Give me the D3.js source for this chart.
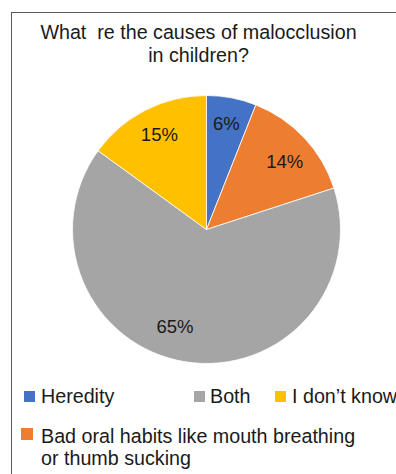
<!DOCTYPE html>
<html>
<head>
<meta charset="utf-8">
<script src="https://cdn.jsdelivr.net/npm/d3@7"></script>
<style>
  body { margin: 0; background: #fff; }
  svg { display: block; font-family: "Liberation Sans", Arial, sans-serif; }
</style>
</head>
<body>
<div id="chart"></div>
<script>
var titleLines = ["What  re the causes of malocclusion", "in children?"];
var categories = ["Heredity", "Bad oral habits like mouth breathing or thumb sucking", "Both", "I don\u2019t know"];
var values = [6, 14, 65, 15];
var colors = ["#4472C4", "#ED7D31", "#A5A5A5", "#FFC000"];

var width = 396, height = 474;

var svg = d3.select("#chart")
  .append("svg")
  .attr("width", width)
  .attr("height", height);

// chart frame (runs off the right and bottom edges)
svg.append("rect")
  .attr("x", 11.5)
  .attr("y", 12.5)
  .attr("width", 420)
  .attr("height", 500)
  .style("fill", "none")
  .style("stroke", "#595959")
  .style("stroke-width", 1);

svg.append("g")
  .selectAll("text")
  .data(titleLines)
  .enter().append("text")
  .attr("x", 198.5)
  .attr("y", function(d, i) { return 39 + i * 23; })
  .attr("text-anchor", "middle")
  .style("white-space", "pre")
  .style("font-size", "19.7px")
  .style("fill", "#1a1a1a")
  .text(function(d) { return d; });

var cx = 206.5, cy = 229.5, r = 134;

var pie = d3.pie().sort(null).value(function(d) { return d; });
var arcs = pie(values);

var arc = d3.arc().innerRadius(0).outerRadius(r);
var labelArc = d3.arc().innerRadius(106).outerRadius(106);
// best-fit label nudges, like the spreadsheet placed them
var labelShift = [[0, -2], [1, 4], [-15, -8], [1, -1]];

var g = svg.append("g")
  .attr("transform", "translate(" + cx + "," + cy + ")");

g.selectAll("path")
  .data(arcs)
  .enter().append("path")
  .attr("d", arc)
  .style("fill", function(d, i) { return colors[i]; })
  .style("stroke", "#fff")
  .style("stroke-width", 0.8);

var total = d3.sum(values);
g.selectAll("text")
  .data(arcs)
  .enter().append("text")
  .attr("transform", function(d, i) {
    var c = labelArc.centroid(d);
    return "translate(" + (c[0] + labelShift[i][0]) + "," + (c[1] + labelShift[i][1]) + ")";
  })
  .attr("text-anchor", "middle")
  .attr("dy", "0.36em")
  .style("font-size", "18.5px")
  .style("fill", "#1a1a1a")
  .text(function(d) { return Math.round(d.value / total * 100) + "%"; });

// legend
var legendItems = [
  { i: 0, x: 24, y: 391, s: 11, lines: ["Heredity"], tx: 41, ty: 403 },
  { i: 2, x: 194, y: 391, s: 11, lines: ["Both"], tx: 210, ty: 403 },
  { i: 3, x: 275, y: 391, s: 11, lines: ["I don\u2019t know"], tx: 292, ty: 403 },
  { i: 1, x: 21, y: 428, s: 12, lines: ["Bad oral habits like mouth breathing", "or thumb sucking"], tx: 41, ty: 443 }
];

var legend = svg.append("g").selectAll("g")
  .data(legendItems)
  .enter().append("g");

legend.append("rect")
  .attr("x", function(d) { return d.x; })
  .attr("y", function(d) { return d.y; })
  .attr("width", function(d) { return d.s; })
  .attr("height", function(d) { return d.s; })
  .style("fill", function(d) { return colors[d.i]; });

legend.each(function(d) {
  d3.select(this).selectAll("text")
    .data(d.lines)
    .enter().append("text")
    .attr("x", d.tx)
    .attr("y", function(t, j) { return d.ty + j * 21.5; })
    .style("font-size", "19.7px")
    .style("fill", "#1a1a1a")
    .text(function(t) { return t; });
});
</script>
</body>
</html>
